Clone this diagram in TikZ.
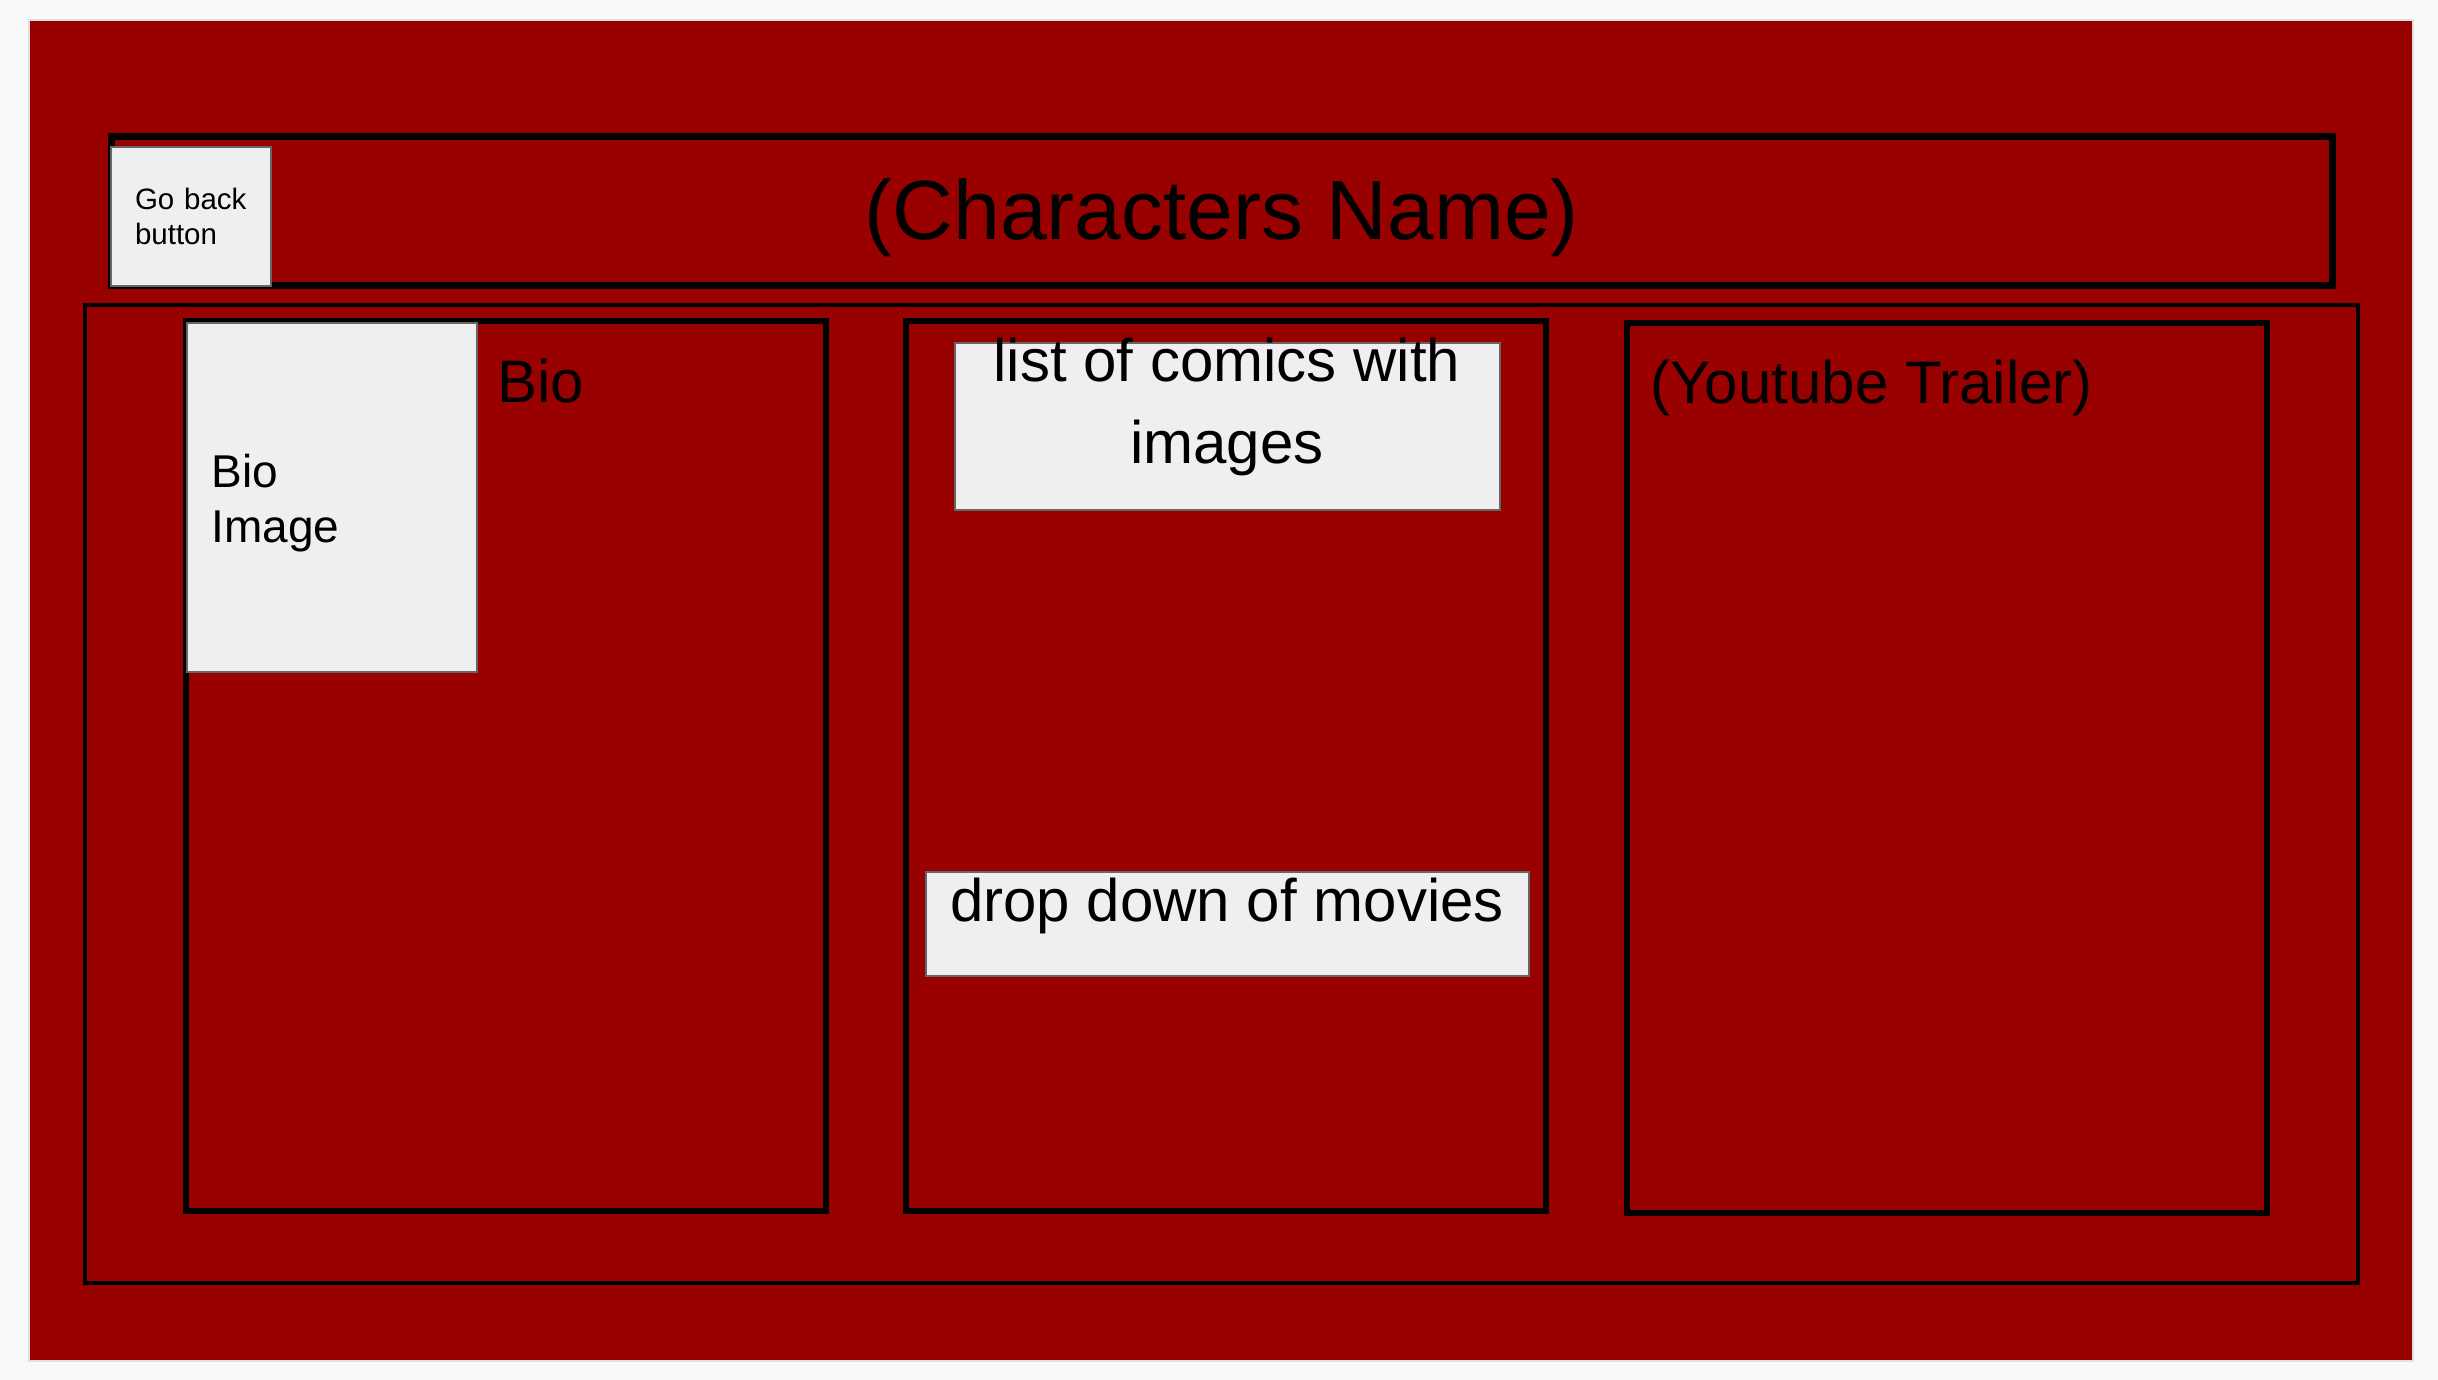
\documentclass[tikz,border=0pt]{standalone}
\usepackage{fontspec}
\setmainfont{Liberation Sans}
\usetikzlibrary{positioning}
\definecolor{slidered}{HTML}{990000}
\definecolor{pagegrey}{HTML}{F8F9FA}
\definecolor{mockgrey}{HTML}{EFEFEF}
\definecolor{mockline}{HTML}{666666}

\begin{document}
\begin{tikzpicture}[x=0.5pt, y=-0.5pt,
			frame/.style={draw=black, line width=3.2pt, outer sep=0pt, inner sep=0pt},
			column/.style={frame, minimum width=320pt, minimum height=445pt},
			mock/.style={draw=mockline, fill=mockgrey, line width=1pt, outer sep=0pt, align=left},
			label/.style={inner sep=0pt, text=black},
			big/.style={font=\fontsize{30}{41}\selectfont},
		]

		\fill[pagegrey] (0,0) rectangle (2438,1380);
		\useasboundingbox (0,0) rectangle (2438,1380);
		\node[fill=slidered, draw=black!12, line width=1pt, outer sep=0pt, minimum width=1192pt, minimum height=670.5pt] (slide) at (1221,690.5) {};

		% top bar
		\node[frame, line width=3.5pt, minimum width=1110.5pt, minimum height=74.5pt] (header) at (1221.5,211.5) {};
		\node[label, anchor=base, font=\fontsize{42}{50}\selectfont] (char-name) at (1222,240) {(Characters Name)};
		\node[mock, minimum width=80pt, minimum height=69.5pt, inner xsep=12pt, text width=56pt, font=\fontsize{14.75}{17.5}\selectfont] (go-back) at (191,216.5) {Go back\\button};

		% three columns
		\node[frame, line width=2.4pt, minimum width=1136.5pt, minimum height=489pt] (content) at (1221.5,794) {};
		\node[column] (col-bio) at (506,766) {};
		\node[column, right=40pt of col-bio] (col-comics) {};
		\node[column, right=40.5pt of col-comics, yshift=-1pt] (col-trailer) {};

		\node[mock, minimum width=145pt, minimum height=174.5pt] (bio-image) at (332,497.5) {};
		\node[label, anchor=base west, align=left, font=\fontsize{23}{27.5}\selectfont] (bio-image-text) at (211,542) {Bio\\Image};
		\node[label, big, anchor=base west] (bio-title) at (497,402) {Bio};

		\node[mock, minimum width=272.5pt, minimum height=83.5pt] (comics-list) at (1227.5,426.5) {};
		\node[label, big, anchor=base, align=center] (comics-text) at (1227,463) {list of comics with\\images};
		\node[mock, minimum width=301.5pt, minimum height=52pt] (movie-dropdown) at (1227.5,924) {};
		\node[label, big, anchor=base] (movie-text) at (1227,921) {drop down of movies};

		\node[label, big, anchor=base west] (trailer-title) at (1650,403) {(Youtube Trailer)};

		\end{tikzpicture}
\end{document}
